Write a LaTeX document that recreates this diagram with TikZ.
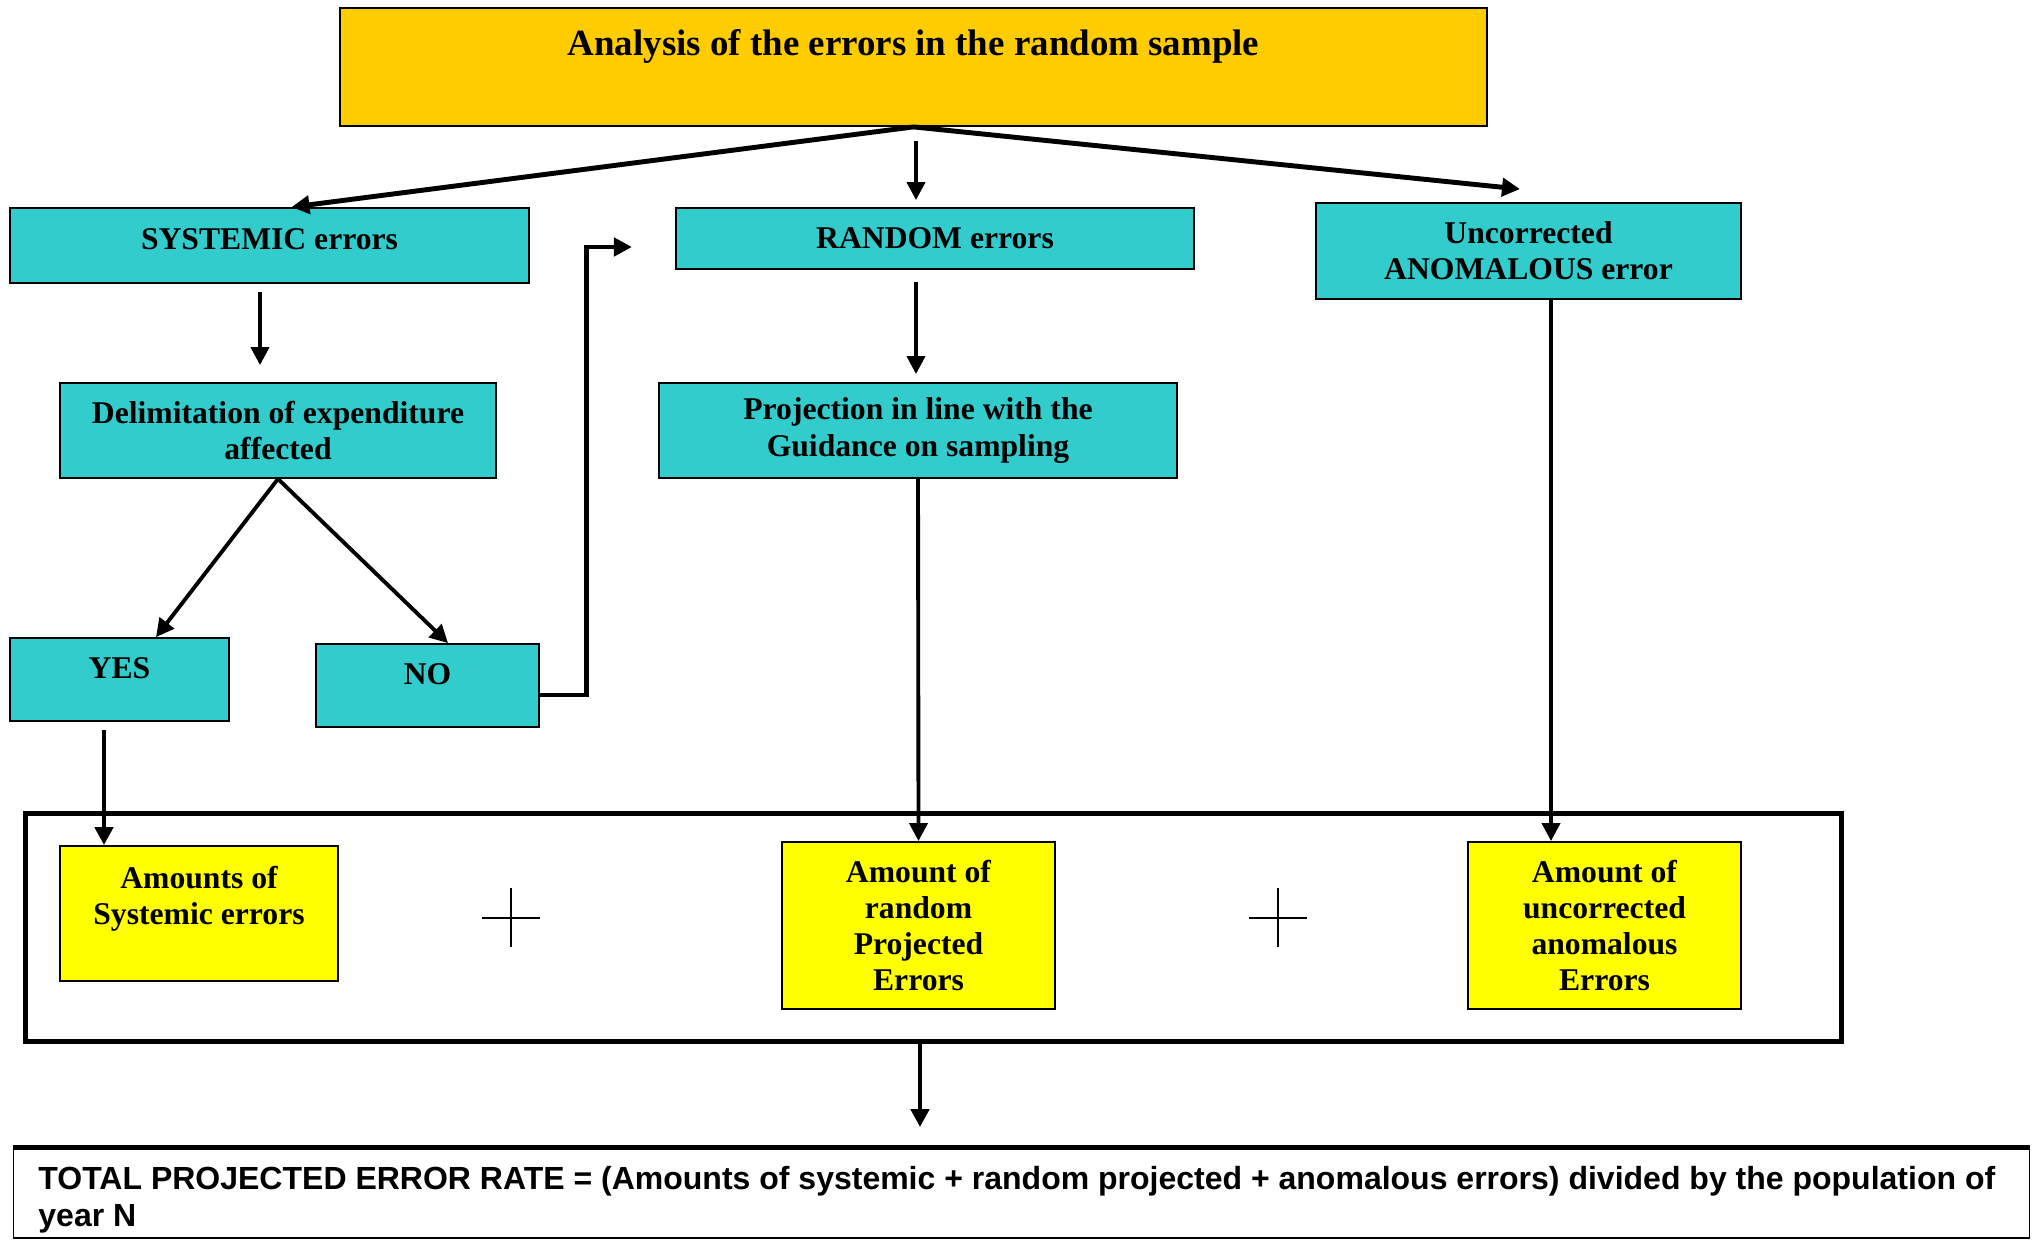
\documentclass[tikz,border=0pt]{standalone}
\usepackage{fontspec}
\setmainfont{Liberation Serif}
\newfontfamily\arialfont{Liberation Sans}
\usepackage{tikz}
\usetikzlibrary{arrows.meta}
\definecolor{titleorange}{HTML}{FFCC00}
\definecolor{errcyan}{HTML}{33CCCC}
\definecolor{sumyellow}{HTML}{FFFF00}

\begin{document}
\begin{tikzpicture}[
    x=0.01cm, y=-0.01cm,
    box/.style={draw, line width=0.5pt, rectangle, align=center, inner sep=0pt,
                font=\bfseries\fontsize{9}{10.3}\selectfont},
    errbox/.style={box, fill=errcyan},
    sumbox/.style={box, fill=sumyellow},
    arrow/.style={-{Triangle[length=1.8mm, width=1.8mm]}, line width=1.1pt},
    heavy/.style={line width=1.4pt}
]
\useasboundingbox (0,0) rectangle (2037,1240);

\node[box, fill=titleorange, minimum width=11.47cm, text height=4.8mm, text depth=7.0mm,
      font=\bfseries\fontsize{10.5}{12}\selectfont] (title) at (913.5,67)
      {Analysis of the errors in the random sample};
\node[errbox, minimum width=5.19cm, text height=4.15mm, text depth=3.35mm] (syserr) at (269.5,245.5) {SYSTEMIC errors};
\node[errbox, minimum width=5.18cm, minimum height=0.61cm] (rnderr) at (935,238.5) {RANDOM errors};
\node[errbox, minimum width=4.25cm, minimum height=0.96cm] (anomerr) at (1528.5,251) {Uncorrected\\ANOMALOUS error};
\node[errbox, minimum width=4.36cm, minimum height=0.95cm] (delim) at (278,430.5) {Delimitation of expenditure\\affected};
\node[errbox, minimum width=5.18cm, minimum height=0.95cm] (project) at (918,430.5) {Projection in line with the\\Guidance on sampling};
\node[errbox, minimum width=2.19cm, text height=4.05mm, text depth=4.25mm] (yes) at (119.5,679.5) {YES};
\node[errbox, minimum width=2.23cm, text height=4.05mm, text depth=4.25mm] (no) at (427.5,685.5) {NO};

\node[draw, heavy, minimum width=18.15cm, minimum height=2.27cm] (sumframe) at (933.5,927.5) {};
\node[sumbox, minimum width=2.78cm, minimum height=1.35cm] (syssum) at (199,913.5) {Amounts of\\Systemic errors\\ \mbox{}};
\node[sumbox, minimum width=2.73cm, minimum height=1.67cm] (rndsum) at (918.5,925.5) {Amount of\\random\\Projected\\Errors};
\node[sumbox, minimum width=2.73cm, minimum height=1.67cm] (anomsum) at (1604.5,925.5) {Amount of\\uncorrected\\anomalous\\Errors};
\foreach \px in {511,1278}
    \draw[line width=0.6pt] (\px-29,918) -- (\px+29,918) (\px,888) -- (\px,947);

\node[draw, line width=0.5pt, minimum height=0.9cm, text width=19.65cm, align=flush left,
      inner xsep=0.25cm, inner ysep=0pt,
      font=\arialfont\bfseries\fontsize{9.1}{10.5}\selectfont] (total) at (1021.5,1193)
      {\rule{0pt}{10.3pt}TOTAL PROJECTED ERROR RATE = (Amounts of systemic + random projected + anomalous errors) divided by the population of\\year N};
\draw[heavy] (total.north west) -- (total.north east);

\draw[arrow, heavy] (title.south) -- ([xshift=2.2mm]syserr.north);
\draw[arrow, shorten <=1.4mm, shorten >=0.7mm] ([xshift=0.25mm]title.south) -- ([xshift=0.25mm]title.south |- rnderr.north);
\draw[arrow, heavy] (title.south) -- ([xshift=-0.85mm, yshift=1.3mm]anomerr.north);
\draw[arrow, shorten <=0.8mm, shorten >=1.7mm] ([xshift=-0.95mm]syserr.south) -- ([xshift=-0.95mm]syserr.south |- delim.north);
\draw[arrow, shorten <=1.2mm, shorten >=0.8mm] ([xshift=-1.9mm]rnderr.south) -- ([xshift=-1.9mm]rnderr.south |- project.north);
\draw[arrow] (delim.south) -- ([xshift=3.65mm]yes.north);
\draw[arrow] (delim.south) -- ([xshift=2.05mm]no.north);
\draw[arrow, heavy] ([yshift=-0.95mm]no.east) -- ++(47,0) |- ([xshift=-4.3mm, yshift=-0.85mm]rnderr.west);
\draw[arrow, heavy, shorten <=0.8mm] ([xshift=-1.55mm]yes.south) -- ([xshift=-1.55mm]yes.south |- syssum.north);
\draw[arrow] (project.south) -- (rndsum.north);
\draw[arrow] ([xshift=2.25mm]anomerr.south) -- ([xshift=2.25mm]anomerr.south |- anomsum.north);
\draw[arrow, heavy, shorten >=2mm] ([xshift=-1.35mm]sumframe.south) -- ([xshift=-1.35mm]sumframe.south |- total.north);
\end{tikzpicture}
\end{document}
